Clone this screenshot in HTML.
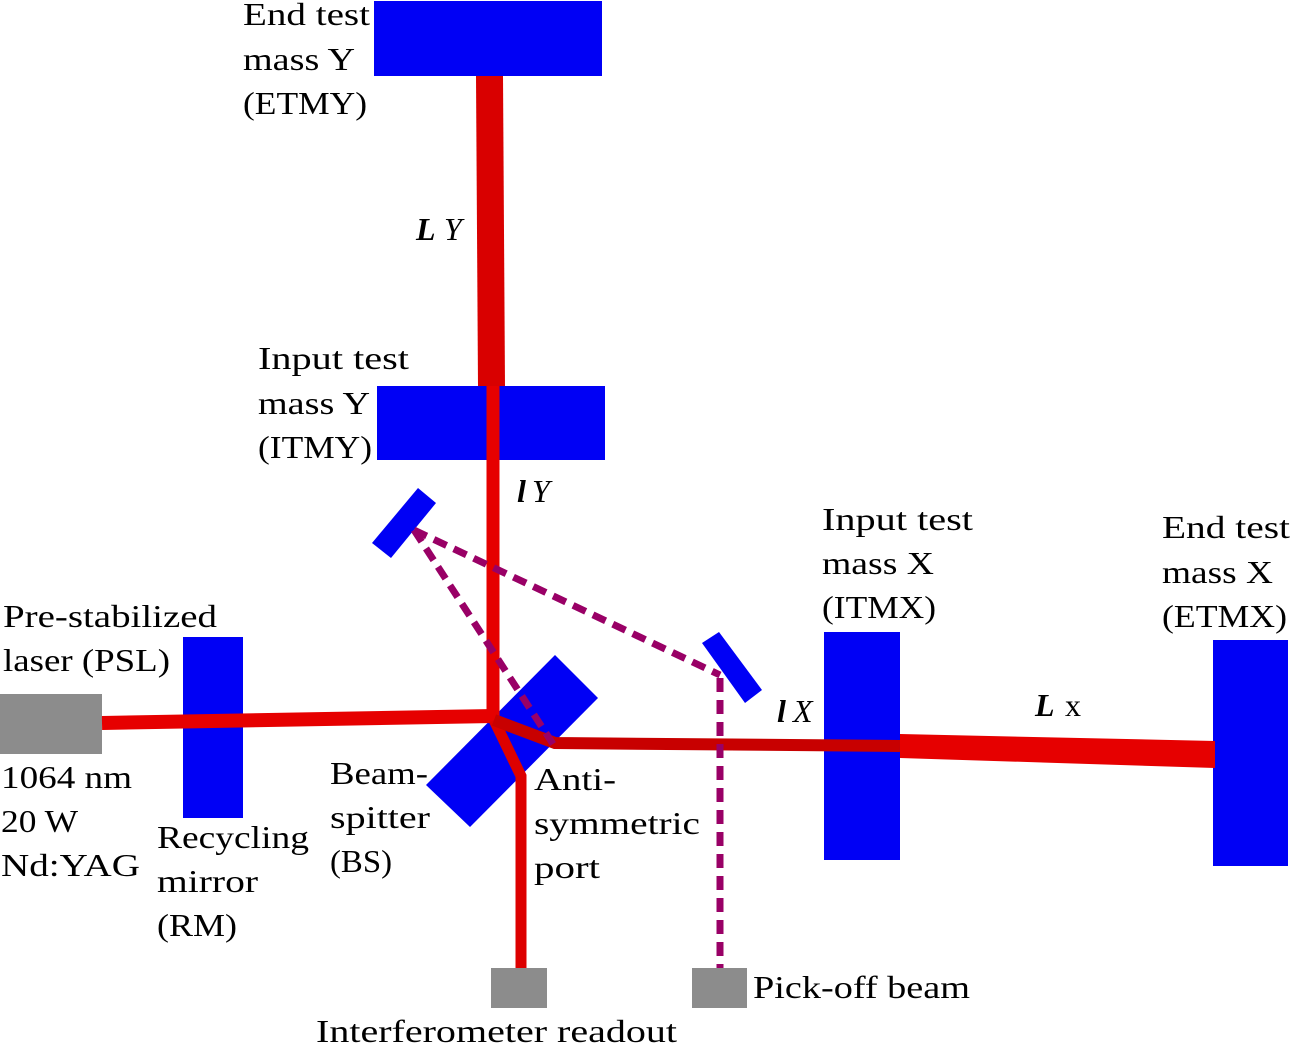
<!DOCTYPE html>
<html><head><style>
body{margin:0;background:#fff;}
svg{display:block}
text{font-family:"Liberation Serif",serif;font-size:32px;fill:#000}
</style></head><body>
<svg width="1292" height="1047" viewBox="0 0 1292 1047">
<!-- gray boxes -->
<rect x="0" y="694" width="102" height="60" fill="#8c8c8c"/>
<rect x="491" y="968" width="56" height="40" fill="#8c8c8c"/>
<rect x="692" y="968" width="55" height="40" fill="#8c8c8c"/>
<!-- blue elements -->
<rect x="374" y="1" width="228" height="75" fill="#0000f5"/>
<rect x="377" y="386" width="228" height="74" fill="#0000f5"/>
<rect x="183" y="637" width="60" height="181" fill="#0000f5"/>
<rect x="824" y="632" width="76" height="228" fill="#0000f5"/>
<rect x="1213" y="640" width="75" height="226" fill="#0000f5"/>
<polygon points="555,655 598,698 470,827 426,785" fill="#0000f5"/>
<polygon points="418,488 436,503 391,558 372,543" fill="#0000f5"/>
<polygon points="702,643 719,632 762,690 745,703" fill="#0000f5"/>
<!-- beams -->
<polygon points="476,76 503,76 505,386 478,386" fill="#d90000"/>
<line x1="493" y1="386" x2="493" y2="720" stroke="#e60000" stroke-width="13"/>
<line x1="102" y1="723" x2="494" y2="716" stroke="#e60000" stroke-width="14"/>
<polyline points="494,720 521,776 521,968" fill="none" stroke="#dd0000" stroke-width="11"/>
<polyline points="494,720 555,743 900,746" fill="none" stroke="#c80000" stroke-width="12"/>
<polygon points="900,734 1215,741 1215,768 900,758" fill="#e60000"/>
<!-- dashed -->
<g stroke="#990066" stroke-width="7" fill="none" stroke-dasharray="14,8">
<line x1="414" y1="530" x2="553" y2="744"/>
<line x1="414" y1="530" x2="720" y2="675"/>
<line x1="720" y1="678" x2="720" y2="968"/>
</g>
<!-- labels -->
<g lengthAdjust="spacingAndGlyphs">
<text x="243" y="25" textLength="127" lengthAdjust="spacingAndGlyphs">End test</text>
<text x="243" y="70" textLength="112" lengthAdjust="spacingAndGlyphs">mass Y</text>
<text x="243" y="114" textLength="124" lengthAdjust="spacingAndGlyphs">(ETMY)</text>
<text x="258" y="369" textLength="151" lengthAdjust="spacingAndGlyphs">Input test</text>
<text x="258" y="414" textLength="112" lengthAdjust="spacingAndGlyphs">mass Y</text>
<text x="258" y="458" textLength="114" lengthAdjust="spacingAndGlyphs">(ITMY)</text>
<text x="822" y="530" textLength="151" lengthAdjust="spacingAndGlyphs">Input test</text>
<text x="822" y="574" textLength="112" lengthAdjust="spacingAndGlyphs">mass X</text>
<text x="822" y="618" textLength="114" lengthAdjust="spacingAndGlyphs">(ITMX)</text>
<text x="1162" y="538" textLength="128" lengthAdjust="spacingAndGlyphs">End test</text>
<text x="1162" y="583" textLength="111" lengthAdjust="spacingAndGlyphs">mass X</text>
<text x="1162" y="627" textLength="125" lengthAdjust="spacingAndGlyphs">(ETMX)</text>
<text x="3" y="627" textLength="214" lengthAdjust="spacingAndGlyphs">Pre-stabilized</text>
<text x="3" y="671" textLength="167" lengthAdjust="spacingAndGlyphs">laser (PSL)</text>
<text x="1" y="788" textLength="131" lengthAdjust="spacingAndGlyphs">1064 nm</text>
<text x="1" y="832" textLength="77" lengthAdjust="spacingAndGlyphs">20 W</text>
<text x="1" y="876" textLength="139" lengthAdjust="spacingAndGlyphs">Nd:YAG</text>
<text x="157" y="848" textLength="152" lengthAdjust="spacingAndGlyphs">Recycling</text>
<text x="157" y="892" textLength="101" lengthAdjust="spacingAndGlyphs">mirror</text>
<text x="157" y="936" textLength="80" lengthAdjust="spacingAndGlyphs">(RM)</text>
<text x="330" y="784" textLength="98" lengthAdjust="spacingAndGlyphs">Beam-</text>
<text x="330" y="828" textLength="100" lengthAdjust="spacingAndGlyphs">spitter</text>
<text x="330" y="872" textLength="62" lengthAdjust="spacingAndGlyphs">(BS)</text>
<text x="534" y="790" textLength="82" lengthAdjust="spacingAndGlyphs">Anti-</text>
<text x="534" y="834" textLength="166" lengthAdjust="spacingAndGlyphs">symmetric</text>
<text x="534" y="878" textLength="66" lengthAdjust="spacingAndGlyphs">port</text>
<text x="753" y="998" textLength="217" lengthAdjust="spacingAndGlyphs">Pick-off beam</text>
<text x="316" y="1042" textLength="361" lengthAdjust="spacingAndGlyphs">Interferometer readout</text>
</g>
<text x="416" y="240" font-style="italic" font-weight="bold">L</text><text x="444" y="240" font-style="italic" font-size="22">Y</text>
<text x="517" y="502" font-style="italic" font-weight="bold">l</text><text x="532" y="502" font-style="italic" font-size="22">Y</text>
<text x="777" y="722" font-style="italic" font-weight="bold">l</text><text x="793" y="722" font-style="italic" font-size="22">X</text>
<text x="1035" y="716" font-style="italic" font-weight="bold">L</text><text x="1065" y="716" font-size="26">x</text>
</svg>
</body></html>
